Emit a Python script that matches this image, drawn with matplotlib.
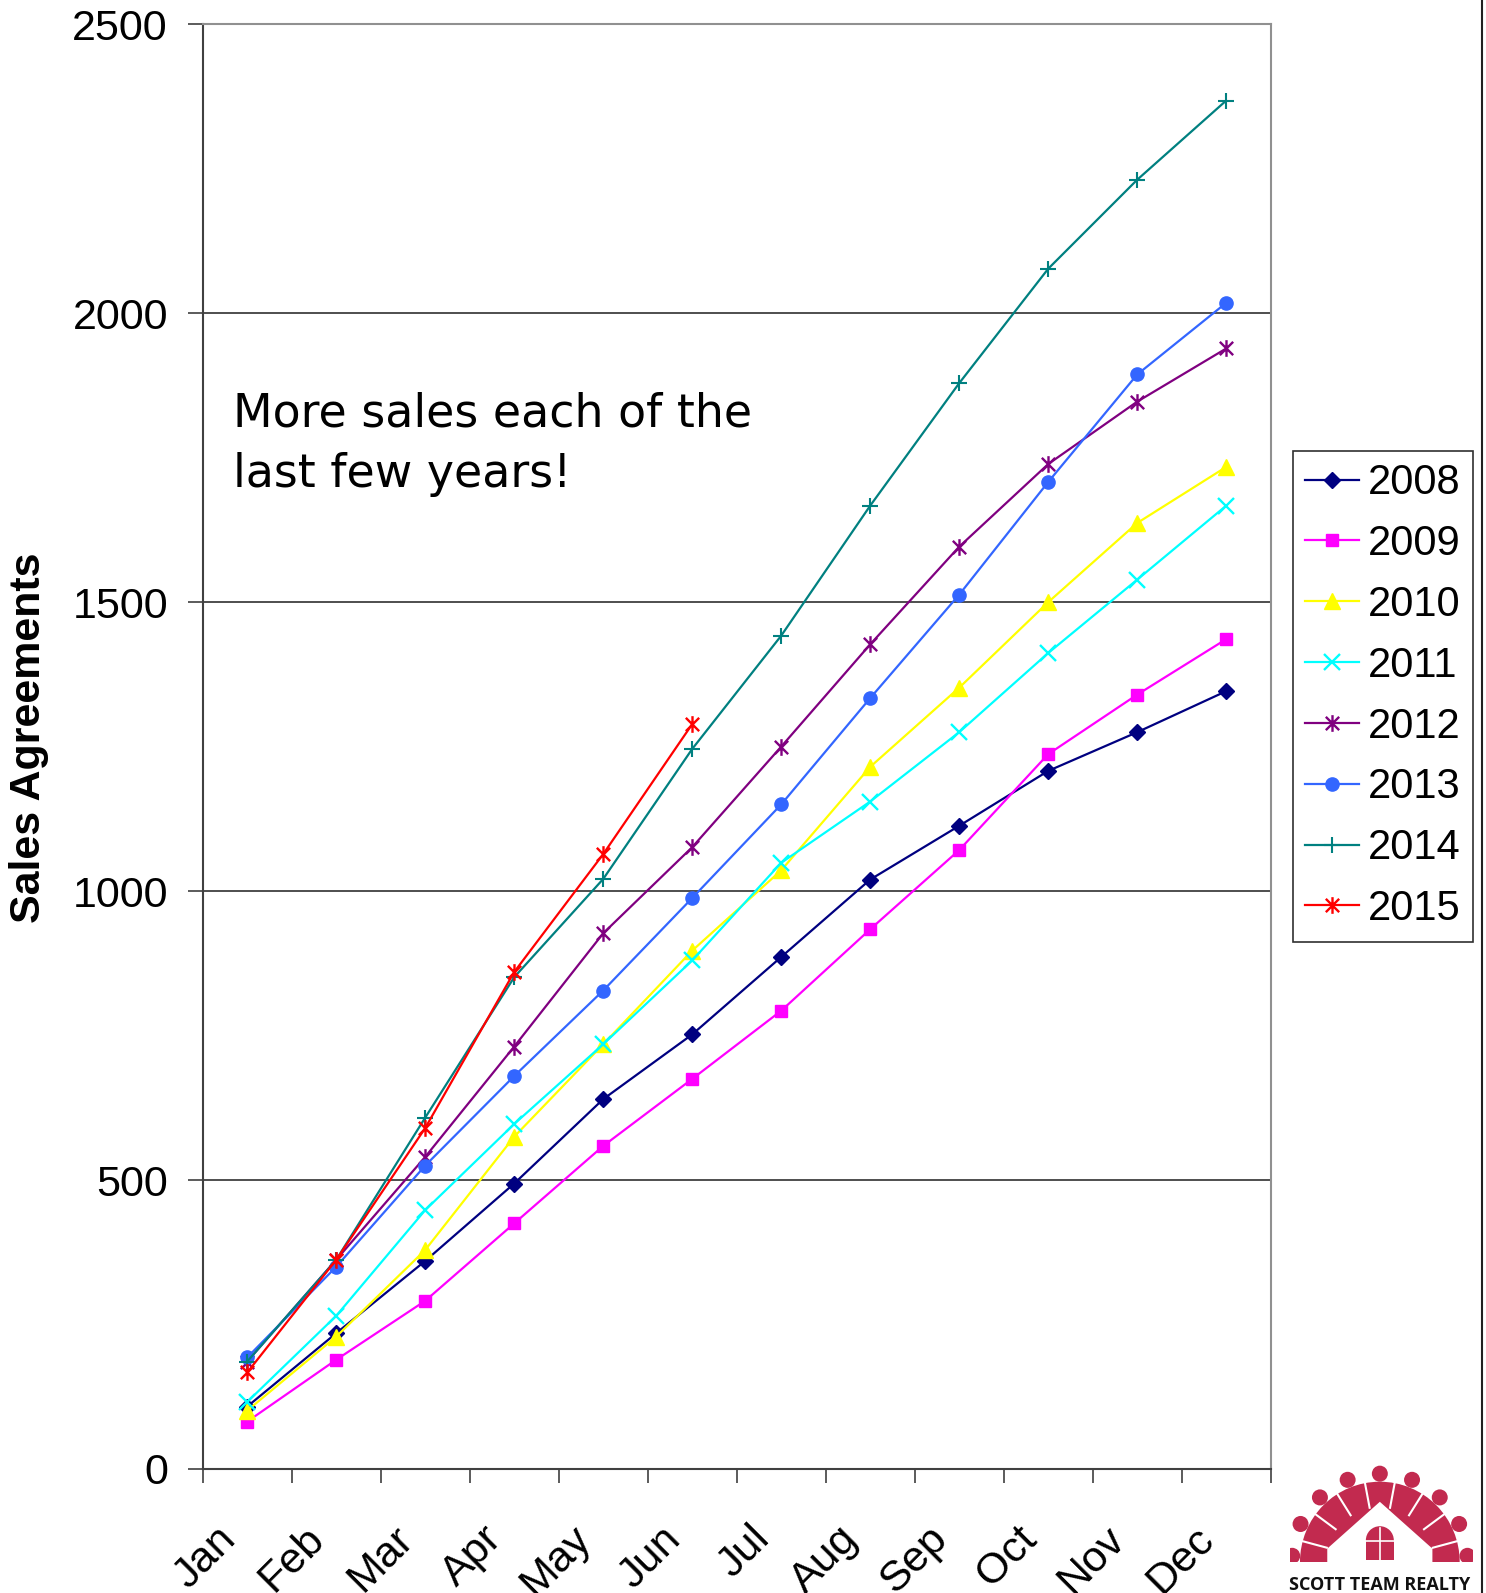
import matplotlib
matplotlib.use('Agg')
import matplotlib.pyplot as plt
import matplotlib.transforms as mtransforms
from matplotlib.lines import Line2D
from matplotlib.path import Path
from matplotlib.patches import Circle, Wedge, Polygon, Rectangle
import numpy as np

# Data (cumulative sales agreements by month)
months = ['Jan', 'Feb', 'Mar', 'Apr', 'May', 'Jun',
          'Jul', 'Aug', 'Sep', 'Oct', 'Nov', 'Dec']
sales_2008 = [108, 235, 360, 494, 640, 752, 886, 1020, 1113, 1208, 1275, 1346]
sales_2009 = [82, 189, 291, 425, 559, 675, 793, 934, 1071, 1237, 1340, 1436]
sales_2010 = [101, 229, 379, 575, 735, 897, 1036, 1215, 1352, 1500, 1637, 1734]
sales_2011 = [116, 265, 448, 597, 735, 880, 1049, 1155, 1275, 1412, 1539, 1667]
sales_2012 = [186, 362, 540, 731, 927, 1076, 1250, 1427, 1596, 1739, 1847, 1939]
sales_2013 = [193, 350, 525, 680, 828, 988, 1150, 1334, 1513, 1708, 1894, 2018]
sales_2014 = [186, 362, 608, 851, 1021, 1246, 1442, 1667, 1879, 2077, 2231, 2368]
sales_2015 = [167, 362, 590, 860, 1064, 1289]
years = ['2008', '2009', '2010', '2011', '2012', '2013', '2014', '2015']
y_ticks = [0, 500, 1000, 1500, 2000, 2500]

# Excel-style "star" marker: an X with a vertical bar through it
star = Path([(0, -1), (0, 1), (-0.8, -0.8), (0.8, 0.8), (-0.8, 0.8), (0.8, -0.8)],
            [Path.MOVETO, Path.LINETO, Path.MOVETO, Path.LINETO, Path.MOVETO, Path.LINETO])

styles = {
    '2008': dict(color='#000080', marker='D', ms=8.5),
    '2009': dict(color='#ff00ff', marker='s', ms=9),
    '2010': dict(color='#ffff00', marker='^', ms=11),
    '2011': dict(color='#00ffff', marker='x', ms=11, mew=1.7),
    '2012': dict(color='#800080', marker=star, ms=12, mew=1.7),
    '2013': dict(color='#3366ff', marker='o', ms=9.5),
    '2014': dict(color='#008080', marker='+', ms=12, mew=1.5),
    '2015': dict(color='#ff0000', marker=star, ms=12, mew=1.7),
}
series = [sales_2008, sales_2009, sales_2010, sales_2011,
          sales_2012, sales_2013, sales_2014, sales_2015]

W, H = 1486, 1593
fig = plt.figure(figsize=(W / 100, H / 100), dpi=100)
plt.rcParams['font.family'] = ['Liberation Sans', 'DejaVu Sans']

ax = fig.add_axes([202.7 / W, 1 - 1469 / H, 1068 / W, (1469 - 24.3) / H])

for year, vals in zip(years, series):
    st = styles[year]
    ax.plot(np.arange(len(vals)), vals, color=st['color'], lw=1.6,
            marker=st['marker'], markersize=st['ms'],
            markeredgewidth=st.get('mew', 1.0),
            markerfacecolor=st['color'], markeredgecolor=st['color'],
            label=year, zorder=3)

ax.set_xlim(-0.5, 11.5)
ax.set_ylim(0, 2500)
ax.set_yticks(y_ticks)
ax.set_yticklabels([str(v) for v in y_ticks], fontsize=31)
ax.yaxis.grid(True, color='#303030', lw=1.2)
ax.set_axisbelow(True)
ax.tick_params(axis='y', direction='out', length=11, width=1.2,
               color='#404040', pad=14)

ax.set_xticks(np.arange(len(months)))
ax.set_xticks(np.arange(len(months) + 1) - 0.5, minor=True)
ax.set_xticklabels(months, fontsize=31, rotation=45, ha='right', va='center',
                   rotation_mode='anchor')
ax.tick_params(axis='x', which='major', length=0, pad=46)
ax.tick_params(axis='x', which='minor', direction='out', length=10,
               width=1.2, color='#404040')
offset = mtransforms.ScaledTranslation(-18 / 100, 0, fig.dpi_scale_trans)
for lbl in ax.get_xticklabels():
    lbl.set_transform(lbl.get_transform() + offset)

for side, col in [('left', '#404040'), ('bottom', '#404040'),
                  ('top', '#909090'), ('right', '#909090')]:
    ax.spines[side].set_color(col)
    ax.spines[side].set_linewidth(1.5)

fig.text(29 / W, 1 - 738 / H, 'Sales Agreements', rotation=90,
         fontsize=31, fontweight='bold', ha='center', va='center')

fig.text(233 / W, 1 - 426.7 / H, 'More sales each of the',
         family=['DejaVu Sans'], fontsize=33, va='baseline')
fig.text(233 / W, 1 - 486.7 / H, 'last few years!',
         family=['DejaVu Sans'], fontsize=33, va='baseline')

leg = ax.legend(loc='upper left', bbox_to_anchor=(1292.7 / W, 1 - 450.7 / H),
                bbox_transform=fig.transFigure, fontsize=30, frameon=True,
                fancybox=False, framealpha=1, edgecolor='#303030',
                borderaxespad=0, borderpad=0.3, labelspacing=0.5,
                handlelength=1.3, handletextpad=0.2)
leg.get_frame().set_linewidth(1.2)

# right-hand border of the slide
fig.add_artist(Line2D([1482 / W, 1482 / W], [0, 1], color='#202020', lw=1.5,
                      transform=fig.transFigure))

# Scott Team Realty logo (drawn in a small inset)
red = '#c22a4f'
lg = fig.add_axes([1290 / W, 1 - 1562 / H, 183 / W, 97 / H])
lg.set_xlim(150, 700)
lg.set_ylim(480, 190)
lg.axis('off')
cx, cy = 420, 480
lg.add_patch(Wedge((cx, cy), 240, 180, 360, color=red, lw=0))
for a in np.linspace(4, 176, 9):
    r = np.deg2rad(a)
    lg.add_patch(Circle((cx + 264 * np.cos(r), cy - 264 * np.sin(r)), 24,
                        color=red, lw=0))
for a in np.linspace(15, 165, 8):
    r = np.deg2rad(a)
    lg.plot([cx + 165 * np.cos(r), cx + 240 * np.cos(r)],
            [cy - 165 * np.sin(r), cy - 240 * np.sin(r)], color='white', lw=1.5)
lg.add_patch(Polygon([(262, 481), (262, 440), (420, 300), (578, 440), (578, 481)],
                     closed=True, color='white', lw=0))
lg.add_patch(Wedge((420, 415), 42, 180, 360, color=red, lw=0))
lg.add_patch(Rectangle((378, 415), 84, 58, color=red, lw=0))
lg.plot([420, 420], [378, 473], color='white', lw=1.2)
lg.plot([378, 462], [418, 418], color='white', lw=1.2)
fig.text(1380 / W, 1 - 1590 / H, 'SCOTT TEAM REALTY', ha='center',
         va='baseline', fontsize=13, fontweight='bold',
         family=['Open Sans', 'DejaVu Sans'], color='#111111')

fig.savefig('out.png', dpi=100)
